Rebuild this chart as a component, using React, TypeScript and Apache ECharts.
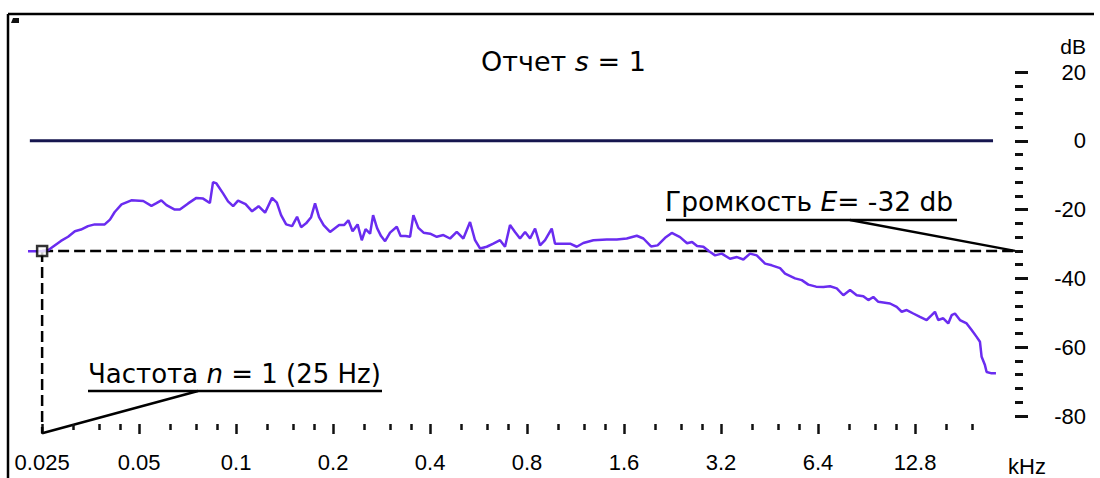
import React, { useEffect, useRef } from 'react';
import * as echarts from 'echarts';

// Spectrum (frequency in Hz, level in dB)
const FREQ_HZ = [
  22.6, 25, 26.1, 27.0, 28.6, 30.1, 31.6, 33.0, 34.7, 36.4,
  39.1, 40.6, 42.0, 44.1, 47.3, 51.5, 54.6, 56.6, 58.6, 60.8,
  64.5, 66.9, 71.0, 75.3, 79.0, 82.9, 84.8, 86.9, 91.1, 94.4,
  97.9, 101.4, 107.0, 112.1, 117.4, 123.0, 129.3, 133.8, 137.9, 143.0,
  149.2, 154.6, 159.1, 164.9, 170.9, 175.8, 180.9, 186.9, 195.7, 208.8,
  216.3, 223.1, 229.9, 238.3, 245.5, 252.3, 260.5, 266.2, 273.9, 281.8,
  290.0, 300.5, 315.3, 324.0, 335.7, 346.7, 355.0, 367.9, 381.8, 400.0,
  419.6, 439.9, 461.4, 484.0, 507.3, 532.2, 551.5, 571.6, 599.6, 628.5,
  659.4, 683.4, 708.2, 733.9, 760.6, 788.8, 817.4, 847.1, 877.8, 909.7,
  954.2, 977.0, 1025, 1088, 1141, 1196, 1285, 1414, 1519, 1631,
  1752, 1837, 1940, 2033, 2145, 2250, 2387, 2510, 2601, 2696,
  2820, 2937, 3066, 3216, 3412, 3587, 3753, 3937, 4129, 4383,
  4597, 4878, 5056, 5430, 5697, 5971, 6310, 6648, 6973, 7315,
  7668, 8044, 8437, 8845, 9167, 9500, 9846, 10204, 10703, 11228,
  11636, 12059, 12641, 13259, 13908, 14414, 14757, 15109, 15659, 16228,
  16628, 17025, 17644, 18509, 19182, 19879, 20353, 20601, 21093, 21351,
  22128, 22820,
];
const LEVEL_DB = [
  -32.1, -32.1, -31.8, -30.8, -29.1, -27.9, -26.3, -25.8, -24.8, -24.3,
  -24.3, -22.9, -20.7, -18.5, -17.3, -17.5, -18.9, -18.1, -17.3, -18.7,
  -20.0, -20.0, -18.2, -16.6, -16.8, -18.1, -12.0, -12.4, -15.3, -17.6,
  -19.0, -17.4, -18.4, -20.5, -19.0, -20.9, -16.6, -18.0, -21.6, -24.3,
  -24.8, -22.1, -25.1, -24.0, -22.2, -18.2, -22.2, -24.5, -26.5, -24.5,
  -24.5, -23.1, -26.3, -24.3, -28.9, -25.7, -27.0, -21.6, -25.4, -27.7,
  -29.2, -26.7, -25.0, -27.7, -27.7, -27.9, -21.6, -25.3, -26.7, -27.0,
  -27.9, -27.4, -28.4, -26.5, -28.4, -23.6, -28.9, -31.3, -30.8, -29.9,
  -28.9, -30.8, -24.5, -26.5, -28.4, -26.5, -28.4, -25.5, -30.4, -28.9,
  -25.5, -29.9, -29.9, -29.9, -30.8, -29.7, -28.9, -28.7, -28.7, -28.4,
  -27.6, -28.4, -30.7, -30.4, -28.2, -26.8, -28.0, -29.8, -29.4, -30.6,
  -30.8, -32.1, -33.3, -32.8, -34.3, -33.8, -34.5, -32.8, -33.3, -35.7,
  -36.2, -37.0, -38.6, -40.0, -40.5, -41.8, -42.4, -42.5, -42.3, -42.9,
  -44.9, -43.4, -44.9, -45.2, -46.3, -45.4, -46.8, -47.0, -47.3, -48.3,
  -49.7, -49.2, -50.2, -51.2, -52.1, -50.7, -49.7, -52.1, -51.6, -53.1,
  -50.7, -50.2, -52.1, -53.1, -55.0, -57.0, -58.4, -62.8, -65.2, -67.2,
  -67.6, -67.6,
];

const X_TICK_KHZ = [0.025, 0.05, 0.1, 0.2, 0.4, 0.8, 1.6, 3.2, 6.4, 12.8];
const X_TICK_LABELS = ['0.025', '0.05', '0.1', '0.2', '0.4', '0.8', '1.6', '3.2', '6.4', '12.8'];
const X_MINOR_STEPS = [1.25, 1.5, 1.75];
const X_MINOR_LIMIT_KHZ = 20;
const X_RANGE_HZ = [22.6, 26150];
const Y_RANGE_DB = [-80, 20];
const Y_INTERVAL = 20;

const REF_LINE_HZ = [22.9, 22350];
const REF_LEVEL_DB = 0;
const LOUDNESS_DB = -32;
const SAMPLE_HZ = 25;
const SAMPLE_DROP_DB = -85;
const BASE_HZ = 25;

const TITLE_WORD = 'Отчет ';
const TITLE_VAR = 's';
const TITLE_TAIL = ' = 1';
const LOUD_WORD = 'Громкость ';
const LOUD_VAR = 'E';
const LOUD_TAIL = '= -32 db';
const FREQ_WORD = 'Частота ';
const FREQ_VAR = 'n';
const FREQ_TAIL = ' = 1 (25 Hz)';

const AXIS_FONT = '"Liberation Sans", Arial, sans-serif';
const TEXT_FONT = '"DejaVu Sans", Verdana, sans-serif';

const oct = (hz: number) => Math.log2(hz / BASE_HZ);

export default function App() {
  const ref = useRef<HTMLDivElement>(null);

  useEffect(() => {
    const chart = echarts.init(ref.current!, null, { renderer: 'svg' });
    const xMin = oct(X_RANGE_HZ[0]);
    const xMax = oct(X_RANGE_HZ[1]);
    const majorPos = X_TICK_KHZ.map((k) => oct(k * 1000));
    const minorPos = X_TICK_KHZ.flatMap((k) => X_MINOR_STEPS.map((m) => k * m))
      .filter((k) => k < X_MINOR_LIMIT_KHZ)
      .map((k) => oct(k * 1000));
    const labelFor = (v: number) => {
      const i = majorPos.findIndex((p) => Math.abs(p - v) < 1e-6);
      return i >= 0 ? X_TICK_LABELS[i] : '';
    };
    const tickStyle = { color: '#111', width: 2.5 };

    const option: any = {
      animation: false,
      backgroundColor: '#fff',
      grid: { left: 28, right: 85, top: 72, bottom: 62, containLabel: false },
      xAxis: [
        {
          type: 'value', min: xMin, max: xMax, position: 'bottom', offset: 8,
          axisLine: { show: false, onZero: false }, splitLine: { show: false },
          axisTick: { show: true, customValues: majorPos, length: 10, lineStyle: tickStyle },
          axisLabel: {
            customValues: majorPos, formatter: labelFor, margin: 27,
            fontSize: 22, color: '#000', fontFamily: AXIS_FONT,
          },
        },
        {
          type: 'value', min: xMin, max: xMax, position: 'bottom', offset: 8,
          axisLine: { show: false, onZero: false }, splitLine: { show: false },
          axisTick: { show: true, customValues: minorPos, length: 6, lineStyle: tickStyle },
          axisLabel: { show: false },
        },
      ],
      yAxis: {
        type: 'value', position: 'right', min: Y_RANGE_DB[0], max: Y_RANGE_DB[1], interval: Y_INTERVAL,
        axisLine: { show: false, onZero: false }, splitLine: { show: false },
        axisTick: { show: true, length: 13, lineStyle: { color: '#111', width: 3 } },
        minorTick: { show: true, splitNumber: 5, length: 8, lineStyle: { color: '#111', width: 3 } },
        minorSplitLine: { show: false },
        axisLabel: { align: 'right', margin: 71, fontSize: 22, color: '#000', fontFamily: AXIS_FONT },
      },
      series: [
        {
          type: 'line', name: 'ref', symbol: 'none', silent: true,
          data: REF_LINE_HZ.map((h) => [oct(h), REF_LEVEL_DB]),
          lineStyle: { color: '#16164f', width: 3 },
        },
        {
          type: 'line', name: 'loudness', symbol: 'none', silent: true,
          data: [[oct(SAMPLE_HZ), LOUDNESS_DB], [xMax, LOUDNESS_DB]],
          lineStyle: { color: '#000', width: 2.5, type: [11, 5] },
        },
        {
          type: 'line', name: 'drop', symbol: 'none', silent: true, clip: false,
          data: [[oct(SAMPLE_HZ), LOUDNESS_DB], [oct(SAMPLE_HZ), SAMPLE_DROP_DB]],
          lineStyle: { color: '#000', width: 2.5, type: [11, 5] },
        },
        {
          type: 'line', name: 'spectrum', symbol: 'none', silent: true, z: 3,
          data: FREQ_HZ.map((h, i) => [oct(h), LEVEL_DB[i]]),
          lineStyle: { color: '#6a2cf0', width: 2.5 },
        },
        {
          type: 'scatter', name: 'sample', silent: true, z: 4,
          symbol: 'rect', symbolSize: 10,
          data: [[oct(SAMPLE_HZ), LOUDNESS_DB]],
          itemStyle: { color: '#fff', borderColor: '#000', borderWidth: 2.5 },
        },
      ],
    };
    chart.setOption(option);

    const pLoud = chart.convertToPixel({ xAxisIndex: 0, yAxisIndex: 0 }, [xMax, LOUDNESS_DB]) as number[];
    const pDrop = chart.convertToPixel({ xAxisIndex: 0, yAxisIndex: 0 }, [oct(SAMPLE_HZ), SAMPLE_DROP_DB]) as number[];
    const black = { stroke: '#000', lineWidth: 2.5 };
    const richText = (size: number) => ({
      a: { fontSize: size, fontFamily: TEXT_FONT, fill: '#000' },
      b: { fontSize: size, fontFamily: TEXT_FONT, fontStyle: 'italic', fill: '#000' },
    });

    chart.setOption({
      graphic: [
        { type: 'line', shape: { x1: 8, y1: 14, x2: 1094, y2: 14 }, style: black },
        { type: 'line', shape: { x1: 8, y1: 14, x2: 8, y2: 478 }, style: black },
        { type: 'polygon', shape: { points: [[11, 23], [13, 18], [19, 18], [19, 23]] }, style: { fill: '#111' } },
        {
          type: 'text', x: 481, y: 61,
          style: {
            text: `{a|${TITLE_WORD}}{b|${TITLE_VAR}}{a|${TITLE_TAIL}}`,
            verticalAlign: 'middle', fill: '#000', rich: richText(27),
          },
        },
        {
          type: 'text', x: 665, y: 201,
          style: {
            text: `{a|${LOUD_WORD}}{b|${LOUD_VAR}}{a|${LOUD_TAIL}}`,
            verticalAlign: 'middle', fill: '#000', rich: richText(26.5),
          },
        },
        { type: 'line', shape: { x1: 666, y1: 220, x2: 957, y2: 220 }, style: black },
        { type: 'line', shape: { x1: 850, y1: 220, x2: pLoud[0], y2: pLoud[1] }, style: black },
        {
          type: 'text', x: 88, y: 374,
          style: {
            text: `{a|${FREQ_WORD}}{b|${FREQ_VAR}}{a|${FREQ_TAIL}}`,
            verticalAlign: 'middle', fill: '#000', rich: richText(26),
          },
        },
        { type: 'line', shape: { x1: 88, y1: 391, x2: 382, y2: 391 }, style: black },
        { type: 'line', shape: { x1: 198, y1: 391, x2: pDrop[0], y2: pDrop[1] }, style: black },
        {
          type: 'text', x: 1086, y: 46,
          style: { text: 'dB', align: 'right', verticalAlign: 'middle', fontSize: 21, fontFamily: AXIS_FONT, fill: '#000' },
        },
        {
          type: 'text', x: 1027, y: 466,
          style: { text: 'kHz', align: 'center', verticalAlign: 'middle', fontSize: 22, fontFamily: AXIS_FONT, fill: '#000' },
        },
      ],
    });

    return () => chart.dispose();
  }, []);

  return (
    <div
      ref={ref}
      style={{ position: 'fixed', left: 0, top: 0, width: 1100, height: 478, background: '#fff' }}
    />
  );
}
